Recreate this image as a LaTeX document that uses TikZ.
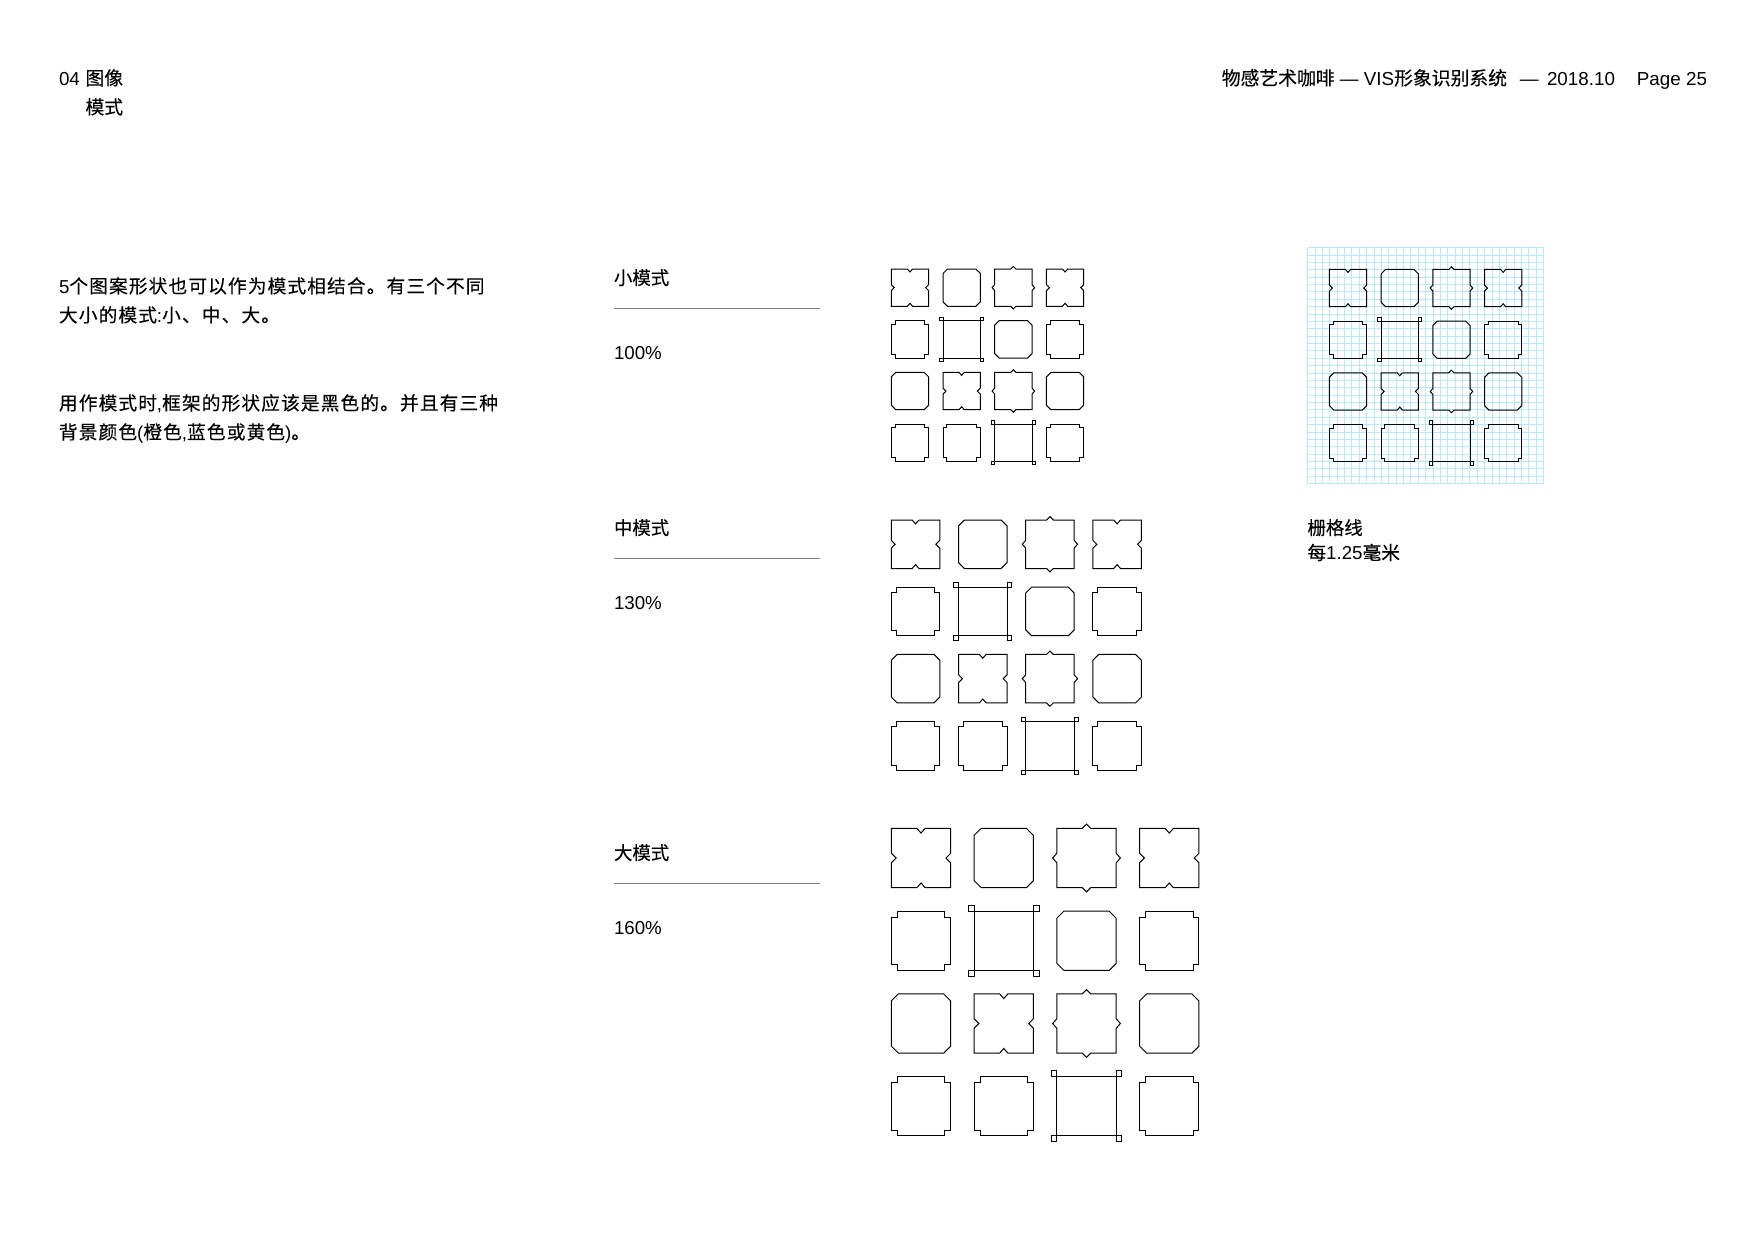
\documentclass[tikz,border=0pt]{standalone}
\usepackage{fontspec}
\setmainfont{Liberation Sans}
\newfontfamily\cjk[FakeBold=0.2]{Noto Sans CJK SC}
\newfontfamily\cjks[LetterSpace=6,FakeBold=0.2]{Noto Sans CJK SC}
\newfontfamily\lats[LetterSpace=3]{Liberation Sans}
\newcommand{\tileA}{\draw[tileline] (0,0)--(.43,0)--(.5,.08)--(.57,0)--(1,0)--(1,.42)--(.92,.5)--(1,.58)--(1,1)--(.57,1)--(.5,.92)--(.43,1)--(0,1)--(0,.58)--(.08,.5)--(0,.42)--cycle;}
\newcommand{\tileB}{\draw[tileline] (.12,0)--(.88,0)--(1,.12)--(1,.88)--(.88,1)--(.12,1)--(0,.88)--(0,.12)--cycle;}
\newcommand{\tileC}{\draw[tileline] (0,0)--(.43,0)--(.5,-.07)--(.57,0)--(1,0)--(1,.42)--(1.07,.5)--(1,.58)--(1,1)--(.57,1)--(.5,1.07)--(.43,1)--(0,1)--(0,.58)--(-.07,.5)--(0,.42)--cycle;}
\newcommand{\tileD}{\draw[tileline] (.1,0)--(.9,0)--(.9,.1)--(1,.1)--(1,.9)--(.9,.9)--(.9,1)--(.1,1)--(.1,.9)--(0,.9)--(0,.1)--(.1,.1)--cycle;}
\newcommand{\tileE}{\draw[tileline] (0,0) rectangle (1,1)
  (-.095,-.095) rectangle (0,0) (1,-.095) rectangle (1.095,0)
  (-.095,1) rectangle (0,1.095) (1,1) rectangle (1.095,1.095);}
% #1,#2 origin, #3 tile size, #4 pitch
\newcommand{\patternset}[4]{%
  \foreach \c/\r/\t in {0/0/A,1/0/B,2/0/C,3/0/A,
                        0/1/D,1/1/E,2/1/B,3/1/D,
                        0/2/B,1/2/A,2/2/C,3/2/B,
                        0/3/D,1/3/D,2/3/E,3/3/D}{
    \begin{scope}[shift={({#1+\c*#4},{#2+\r*#4})},x=#3pt,y=-#3pt]
      \csname tile\t\endcsname
    \end{scope}
  }%
}
\tikzset{
  txt/.style={inner sep=0pt,outer sep=0pt,anchor=base west,font=\fontsize{18.7}{18.7}\selectfont,text=black},
  lbl/.style={txt,font=\fontsize{18.4}{18.4}\selectfont},
  hdr/.style={txt,font=\fontsize{18.8}{18.8}\selectfont},
  tileline/.style={draw=black,line width=1pt,line join=miter},
  rulegray/.style={draw=black!50,line width=1pt},
  gridcyan/.style={draw=cyan!28!white,line width=.7pt}
}
\begin{document}
\begin{tikzpicture}[x=1pt,y=-1pt]
\useasboundingbox (0,0) rectangle (1753,1240);
\fill[white] (0,0) rectangle (1753,1240);

% header
\node[hdr] (secnum) at (59,85) {04};
\node[hdr] (sec) at (85.5,85) {\cjk 图像};
\node[hdr] (sub) at (85.5,114) {\cjk 模式};
\node[hdr,anchor=base east] (head) at (1707,85) {{\cjk 物感艺术咖啡} — VIS{\cjk 形象识别系统}\hspace{13pt}—\hspace{3pt} 2018.10\hspace{22pt}Page 25};

% body
\node[txt] (b1) at (59,293) {{\lats 5}{\cjks 个图案形状也可以作为模式相结合。有三个不同}};
\node[txt] (b2) at (59,322) {{\cjks 大小的模式}{\lats :}{\cjks 小、中、大。}};
\node[txt] (b3) at (59,410) {{\cjks 用作模式时}{\lats ,}{\cjks 框架的形状应该是黑色的。并且有三种}};
\node[txt] (b4) at (59,439) {{\cjks 背景颜色}{\lats (}{\cjks 橙色}{\lats ,}{\cjks 蓝色或黄色}{\lats )}{\cjks 。}};

% size labels
\node[lbl] (small) at (614,284.6) {\cjk 小模式};
\draw[rulegray] (614,308.7) -- (820,308.7);
\node[txt] (pc100) at (614,359.4) {100\%};
\node[lbl] (mid) at (614,534.6) {\cjk 中模式};
\draw[rulegray] (614,558.7) -- (820,558.7);
\node[txt] (pc130) at (614,609.4) {130\%};
\node[lbl] (big) at (614,859.6) {\cjk 大模式};
\draw[rulegray] (614,883.7) -- (820,883.7);
\node[txt] (pc160) at (614,934.4) {160\%};

% patterns
\patternset{891.3}{269}{37.3}{51.7}
\patternset{891.3}{520}{48.5}{67.2}
\patternset{891.3}{828.3}{59.4}{82.75}

% grid
\foreach \i in {0,...,32}{
  \draw[gridcyan] ({1307.5+\i*7.375},247.5) -- ({1307.5+\i*7.375},483.5);
  \draw[gridcyan] (1307.5,{247.5+\i*7.375}) -- (1543.5,{247.5+\i*7.375});
}
\patternset{1329.4}{269.4}{37.3}{51.7}
\node[lbl] (gridA) at (1307.5,534.6) {\cjk 栅格线};
\node[txt] (gridB) at (1307.5,559.6) {{\cjk 每}1.25{\cjk 毫米}};
\end{tikzpicture}
\end{document}
